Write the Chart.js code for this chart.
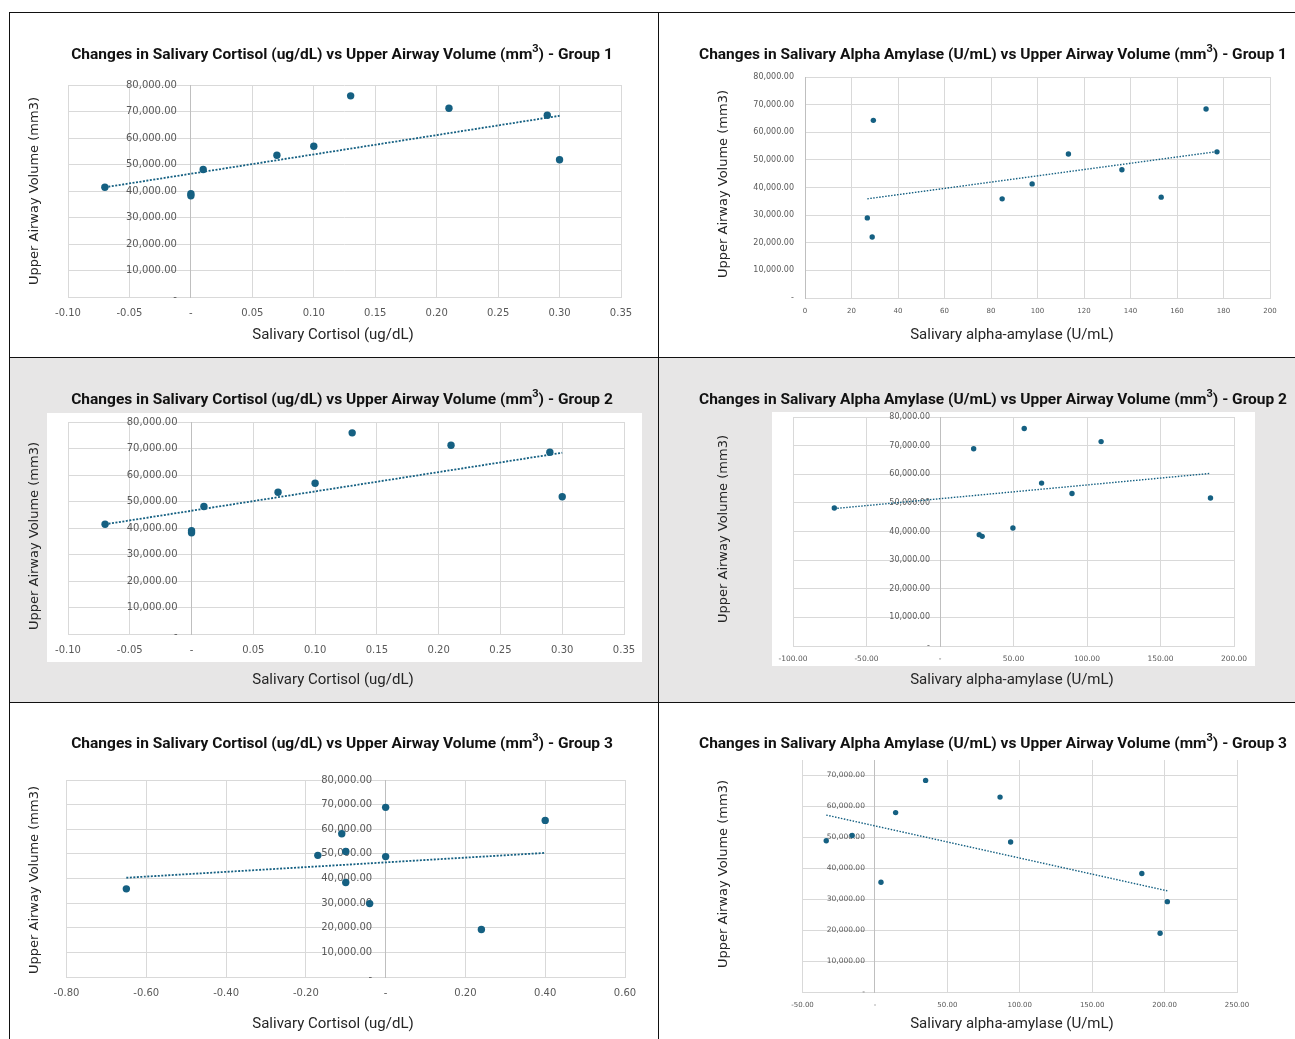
<!DOCTYPE html>
<html>
<head>
<meta charset="utf-8">
<title>Salivary markers vs upper airway volume</title>
<script src="https://cdn.jsdelivr.net/npm/chart.js@4.4.1/dist/chart.umd.min.js"></script>
<style>
  body { margin: 0; background: #fff; }
  #page { position: relative; width: 1295px; height: 1039px; overflow: hidden; }
  .band { position: absolute; left: 10px; top: 358px; width: 1285px; height: 344px; background: #e7e6e6; }
  .box { position: absolute; background: #fff; }
  .rule { position: absolute; background: #111; }
  canvas { position: absolute; }
</style>
</head>
<body>
<div id="page">
  <div class="band"></div>
  <div class="box" style="left:47px;top:413px;width:595px;height:249px"></div>
  <div class="box" style="left:772px;top:412px;width:483px;height:254px"></div>

  <canvas id="c1" width="648" height="344" style="left:10px;top:13px"></canvas>
  <canvas id="c2" width="636" height="344" style="left:659px;top:13px"></canvas>
  <canvas id="c3" width="648" height="344" style="left:10px;top:358px"></canvas>
  <canvas id="c4" width="636" height="344" style="left:659px;top:358px"></canvas>
  <canvas id="c5" width="648" height="336" style="left:10px;top:703px"></canvas>
  <canvas id="c6" width="636" height="336" style="left:659px;top:703px"></canvas>

  <div class="rule" style="left:9px;top:12px;width:1286px;height:1px"></div>
  <div class="rule" style="left:9px;top:357px;width:1286px;height:1px"></div>
  <div class="rule" style="left:9px;top:702px;width:1286px;height:1px"></div>
  <div class="rule" style="left:9px;top:12px;width:1px;height:1027px"></div>
  <div class="rule" style="left:658px;top:12px;width:1px;height:1027px"></div>
</div>
<script>
// ---- data ----
// group 1, cortisol change vs airway volume
const g1CortX = [-0.07, 0, 0, 0.01, 0.07, 0.10, 0.13, 0.21, 0.29, 0.30];
const g1CortY = [41400, 39000, 38200, 48100, 53500, 56900, 75900, 71200, 68600, 51800];
const g1CortTrendX = [-0.07, 0.30];
const g1CortTrendY = [41400, 68400];

// group 1, alpha amylase
const g1AmyX = [26.8, 28.9, 29.4, 84.8, 97.7, 113.3, 136.3, 153.2, 172.5, 177.2];
const g1AmyY = [29000, 22100, 64300, 35900, 41300, 52100, 46400, 36500, 68400, 52900];
const g1AmyTrendX = [26.8, 177.2];
const g1AmyTrendY = [35900, 53000];

// group 2, cortisol (same points as shown in the source)
const g2CortX = [-0.07, 0, 0, 0.01, 0.07, 0.10, 0.13, 0.21, 0.29, 0.30];
const g2CortY = [41400, 39000, 38200, 48100, 53500, 56900, 75900, 71200, 68600, 51800];
const g2CortTrendX = [-0.07, 0.30];
const g2CortTrendY = [41400, 68400];

// group 2, alpha amylase
const g2AmyX = [-71.9, 22.9, 26.7, 28.7, 49.6, 57.3, 69.1, 89.8, 109.6, 184.0];
const g2AmyY = [48200, 68900, 38900, 38300, 41200, 76000, 56900, 53300, 71400, 51700];
const g2AmyTrendX = [-71.9, 184.0];
const g2AmyTrendY = [48000, 60300];

// group 3, cortisol
const g3CortX = [-0.65, -0.17, -0.11, -0.10, -0.10, -0.04, 0, 0, 0.24, 0.40];
const g3CortY = [35800, 49400, 58200, 51000, 38400, 29800, 68900, 48900, 19300, 63600];
const g3CortTrendX = [-0.65, 0.40];
const g3CortTrendY = [40300, 50400];

// group 3, alpha amylase
const g3AmyX = [-33.6, -15.7, 4.2, 14.3, 35.0, 86.4, 93.7, 184.3, 196.9, 201.9];
const g3AmyY = [48900, 50600, 35500, 58000, 68400, 63000, 48500, 38300, 19000, 29200];
const g3AmyTrendX = [-33.6, 201.9];
const g3AmyTrendY = [57200, 32700];

// ---- tick values and their labels ----
const cortTicks = [-0.10, -0.05, 0, 0.05, 0.10, 0.15, 0.20, 0.25, 0.30, 0.35];
const cortLabels = ['-0.10', '-0.05', '-', '0.05', '0.10', '0.15', '0.20', '0.25', '0.30', '0.35'];
const cortTicks3 = [-0.8, -0.6, -0.4, -0.2, 0, 0.2, 0.4, 0.6];
const cortLabels3 = ['-0.80', '-0.60', '-0.40', '-0.20', '-', '0.20', '0.40', '0.60'];
const amyTicks1 = [0, 20, 40, 60, 80, 100, 120, 140, 160, 180, 200];
const amyLabels1 = ['0', '20', '40', '60', '80', '100', '120', '140', '160', '180', '200'];
const amyTicks2 = [-100, -50, 0, 50, 100, 150, 200];
const amyLabels2 = ['-100.00', '-50.00', '-', '50.00', '100.00', '150.00', '200.00'];
const amyTicks3 = [-50, 0, 50, 100, 150, 200, 250];
const amyLabels3 = ['-50.00', '-', '50.00', '100.00', '150.00', '200.00', '250.00'];
const volTicks = [0, 10000, 20000, 30000, 40000, 50000, 60000, 70000, 80000];
const volLabels = ['-', '10,000.00', '20,000.00', '30,000.00', '40,000.00', '50,000.00', '60,000.00', '70,000.00', '80,000.00'];
const volTicks70 = [0, 10000, 20000, 30000, 40000, 50000, 60000, 70000];
const volLabels70 = ['-', '10,000.00', '20,000.00', '30,000.00', '40,000.00', '50,000.00', '60,000.00', '70,000.00'];

const BLUE = '#156082';
const GRID = '#d9d9d9';
const TICK = '#595959';

function pairs(xs, ys) {
  return xs.map((x, i) => ({ x: x, y: ys[i] }));
}

// titles are drawn by hand so the superscript 3 and the positions can follow the original
const headings = {
  id: 'headings',
  beforeDraw(chart) {
    // a y axis pinned at x=0 gets no tick padding from chart.js, so push the labels left
    const sc = chart.scales.y;
    const items = sc.getLabelItems();
    if (items.moved) return;
    items.moved = true;
    items.forEach(it => { it.options.translation[0] -= sc.options.ticks.padding; });
  },
  afterDraw(chart, args, o) {
    const ctx = chart.ctx;
    ctx.save();
    ctx.fillStyle = '#111';
    ctx.textBaseline = 'alphabetic';
    ctx.textAlign = 'left';
    const big = 'bold 15.5px Roboto', small = 'bold 11px Roboto';
    ctx.font = big;
    const w1 = ctx.measureText(o.title[0]).width;
    const w3 = ctx.measureText(o.title[1]).width;
    ctx.font = small;
    const w2 = ctx.measureText('3').width;
    let x = o.titleAt[0] - (w1 + w2 + w3) / 2;
    const base = o.titleAt[1] + 5.5;
    ctx.font = big; ctx.fillText(o.title[0], x, base); x += w1;
    ctx.font = small; ctx.fillText('3', x, base - 6.5); x += w2;
    ctx.font = big; ctx.fillText(o.title[1], x, base);

    ctx.fillStyle = '#262626';
    ctx.textAlign = 'center';
    ctx.textBaseline = 'middle';
    ctx.font = '15px Roboto';
    ctx.fillText(o.xTitle, o.xTitleAt[0], o.xTitleAt[1]);

    ctx.translate(o.yTitleAt[0], o.yTitleAt[1]);
    ctx.rotate(-Math.PI / 2);
    ctx.font = '13px "DejaVu Sans"';
    ctx.fillText(o.yTitle, 0, 0);
    ctx.restore();
  }
};

function makeChart(s) {
  new Chart(document.getElementById(s.id), {
    type: 'scatter',
    data: {
      datasets: [
        {
          data: pairs(s.tx, s.ty),
          showLine: true,
          borderColor: BLUE,
          borderWidth: s.lw,
          borderDash: s.dash,
          pointRadius: 0,
          fill: false
        },
        {
          data: pairs(s.x, s.y),
          backgroundColor: BLUE,
          borderWidth: 0,
          pointRadius: s.r
        }
      ]
    },
    options: {
      responsive: false,
      animation: false,
      events: [],
      layout: { padding: s.pad },
      plugins: {
        legend: { display: false },
        tooltip: { enabled: false },
        headings: {
          title: s.title, titleAt: s.titleAt,
          xTitle: s.xTitle, xTitleAt: s.xTitleAt,
          yTitle: 'Upper Airway Volume (mm3)', yTitleAt: s.yTitleAt
        }
      },
      scales: {
        x: {
          type: 'linear',
          position: 'bottom',
          min: s.xTicks[0],
          max: s.xTicks[s.xTicks.length - 1],
          afterBuildTicks: sc => { sc.ticks = s.xTicks.map(v => ({ value: v })); },
          afterFit: sc => { sc.height = s.xh; },
          grid: { color: GRID, drawTicks: false },
          border: { color: GRID },
          ticks: {
            padding: s.xPad, color: TICK, maxRotation: 0, autoSkip: false,
            font: { family: 'DejaVu Sans', size: s.xFont },
            callback: (v, i) => s.xLabels[i]
          }
        },
        y: {
          type: 'linear',
          position: { x: 0 },
          min: 0,
          max: s.yMax,
          afterBuildTicks: sc => { sc.ticks = s.yTicks.map(v => ({ value: v })); },
          grid: { color: GRID, drawTicks: false },
          border: { color: '#bfbfbf' },
          ticks: {
            padding: s.yPad, color: TICK, autoSkip: false,
            font: { family: 'DejaVu Sans', size: s.yFont },
            callback: (v, i) => s.yLabels[i]
          }
        }
      }
    },
    plugins: [headings]
  });
}

const cortTitle = ['Changes in Salivary Cortisol (ug/dL) vs Upper Airway Volume (mm', ') - Group '];
const amyTitle = ['Changes in Salivary Alpha Amylase (U/mL) vs Upper Airway Volume (mm', ') - Group '];

makeChart({
  id: 'c1', x: g1CortX, y: g1CortY, tx: g1CortTrendX, ty: g1CortTrendY,
  xTicks: cortTicks, xLabels: cortLabels, yTicks: volTicks, yLabels: volLabels, yMax: 80000,
  title: [cortTitle[0], cortTitle[1] + '1'], xTitle: 'Salivary Cortisol (ug/dL)',
  pad: { left: 58, right: 37, top: 72, bottom: 0 }, xh: 60,
  xPad: 10, yPad: 14, xFont: 10, yFont: 10, r: 3.7, lw: 1.8, dash: [2, 1.5],
  titleAt: [332, 40], xTitleAt: [323, 322], yTitleAt: [25, 178]
});

makeChart({
  id: 'c2', x: g1AmyX, y: g1AmyY, tx: g1AmyTrendX, ty: g1AmyTrendY,
  xTicks: amyTicks1, xLabels: amyLabels1, yTicks: volTicks, yLabels: volLabels, yMax: 80000,
  title: [amyTitle[0], amyTitle[1] + '1'], xTitle: 'Salivary alpha-amylase (U/mL)',
  pad: { left: 146, right: 25, top: 64, bottom: 0 }, xh: 59,
  xPad: 9, yPad: 11, xFont: 7, yFont: 8, r: 2.7, lw: 1.4, dash: [1.5, 1.5],
  titleAt: [334, 40], xTitleAt: [353, 322], yTitleAt: [65, 171]
});

makeChart({
  id: 'c3', x: g2CortX, y: g2CortY, tx: g2CortTrendX, ty: g2CortTrendY,
  xTicks: cortTicks, xLabels: cortLabels, yTicks: volTicks, yLabels: volLabels, yMax: 80000,
  title: [cortTitle[0], cortTitle[1] + '2'], xTitle: 'Salivary Cortisol (ug/dL)',
  pad: { left: 58, right: 34, top: 64, bottom: 0 }, xh: 68,
  xPad: 10, yPad: 14, xFont: 10, yFont: 10, r: 3.7, lw: 1.8, dash: [2, 1.5],
  titleAt: [332, 40], xTitleAt: [323, 322], yTitleAt: [25, 178]
});

makeChart({
  id: 'c4', x: g2AmyX, y: g2AmyY, tx: g2AmyTrendX, ty: g2AmyTrendY,
  xTicks: amyTicks2, xLabels: amyLabels2, yTicks: volTicks, yLabels: volLabels, yMax: 80000,
  title: [amyTitle[0], amyTitle[1] + '2'], xTitle: 'Salivary alpha-amylase (U/mL)',
  pad: { left: 134, right: 61, top: 59, bottom: 0 }, xh: 56,
  xPad: 9, yPad: 10, xFont: 7.5, yFont: 8, r: 2.7, lw: 1.4, dash: [1.5, 1.5],
  titleAt: [334, 40], xTitleAt: [353, 322], yTitleAt: [65, 171]
});

makeChart({
  id: 'c5', x: g3CortX, y: g3CortY, tx: g3CortTrendX, ty: g3CortTrendY,
  xTicks: cortTicks3, xLabels: cortLabels3, yTicks: volTicks, yLabels: volLabels, yMax: 80000,
  title: [cortTitle[0], cortTitle[1] + '3'], xTitle: 'Salivary Cortisol (ug/dL)',
  pad: { left: 56.5, right: 33, top: 77, bottom: 0 }, xh: 62,
  xPad: 10, yPad: 13.5, xFont: 10, yFont: 10, r: 3.7, lw: 1.8, dash: [2, 1.5],
  titleAt: [332, 39], xTitleAt: [323, 321], yTitleAt: [25, 177]
});

makeChart({
  id: 'c6', x: g3AmyX, y: g3AmyY, tx: g3AmyTrendX, ty: g3AmyTrendY,
  xTicks: amyTicks3, xLabels: amyLabels3, yTicks: volTicks70, yLabels: volLabels70, yMax: 75000,
  title: [amyTitle[0], amyTitle[1] + '3'], xTitle: 'Salivary alpha-amylase (U/mL)',
  pad: { left: 143.5, right: 58, top: 57, bottom: 0 }, xh: 47,
  xPad: 9, yPad: 10, xFont: 7, yFont: 7.5, r: 2.7, lw: 1.4, dash: [1.5, 1.5],
  titleAt: [334, 39], xTitleAt: [353, 321], yTitleAt: [65, 171]
});
</script>
</body>
</html>
